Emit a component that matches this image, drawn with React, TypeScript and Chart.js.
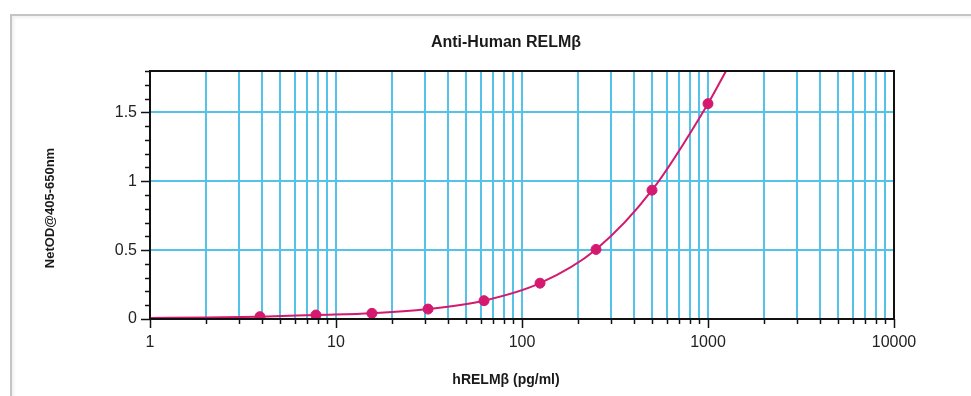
import React, { useEffect, useRef } from "react";
import { Chart, registerables } from "chart.js";

Chart.register(...registerables);

const titleText = "Anti-Human RELMβ";
const xTitle = "hRELMβ (pg/ml)";
const yTitle = "NetOD@405-650nm";

// Standard points
const stdConc = [3.9, 7.8, 15.6, 31.25, 62.5, 125, 250, 500, 1000];
const stdOD = [0.017, 0.029, 0.041, 0.072, 0.133, 0.26, 0.505, 0.935, 1.563];

// Fitted curve
const curveConc = [1, 2, 3.9, 7.8, 15.6, 31.25, 62.5, 125, 250, 500, 1000, 1250];
const curveOD = [0.008, 0.011, 0.017, 0.029, 0.041, 0.072, 0.133, 0.26, 0.505, 0.935, 1.563, 1.8];

const xMajorTicks = [1, 10, 100, 1000, 10000];
const yMajorTicks = [0, 0.5, 1, 1.5];

const GRID = "#55c2ea";
const CURVE = "#d4196f";

function buildXTicks(): number[] {
  const out: number[] = [];
  for (let p = 0; p < 4; p++) {
    for (let m = 1; m < 10; m++) out.push(m * Math.pow(10, p));
  }
  out.push(10000);
  return out;
}
function buildYTicks(): number[] {
  const out: number[] = [];
  for (let i = 0; i <= 18; i++) out.push(Math.round(i) / 10);
  return out;
}
const isMajorX = (v: number) => xMajorTicks.some((t) => Math.abs(t - v) < 1e-9);
const isMajorY = (v: number) => yMajorTicks.some((t) => Math.abs(t - v) < 1e-9);

const decorPlugin = {
  id: "decor",
  afterDatasetsDraw(chart: any) {
    const { ctx, chartArea } = chart;
    const xs = chart.scales.x;
    const ys = chart.scales.y;
    ctx.save();
    // frame
    ctx.strokeStyle = "#111";
    ctx.lineWidth = 2;
    ctx.strokeRect(chartArea.left, chartArea.top, chartArea.right - chartArea.left, chartArea.bottom - chartArea.top);
    // y ticks
    ctx.lineWidth = 1.5;
    for (const v of buildYTicks()) {
      const py = Math.round(ys.getPixelForValue(v)) + 0.5;
      const len = isMajorY(v) ? 9 : 5;
      ctx.beginPath();
      ctx.moveTo(chartArea.left - len, py);
      ctx.lineTo(chartArea.left, py);
      ctx.stroke();
    }
    for (const v of buildXTicks()) {
      const px = Math.round(xs.getPixelForValue(v)) + 0.5;
      const len = isMajorX(v) ? 9 : 5;
      ctx.beginPath();
      ctx.moveTo(px, chartArea.bottom);
      ctx.lineTo(px, chartArea.bottom + len);
      ctx.stroke();
    }
    // titles
    ctx.fillStyle = "#1a1a1a";
    ctx.textAlign = "center";
    ctx.textBaseline = "middle";
    ctx.font = "bold 16px 'Liberation Sans Narrow', 'Liberation Sans', Arial, sans-serif";
    ctx.fillText(titleText, 506, 43);
    ctx.font = "bold 14px 'Liberation Sans', Arial, sans-serif";
    ctx.fillText(xTitle, 506, 380);
    ctx.save();
    ctx.translate(50, 208);
    ctx.rotate(-Math.PI / 2);
    ctx.font = "bold 13px 'Liberation Sans', Arial, sans-serif";
    ctx.fillText(yTitle, 0, 0);
    ctx.restore();
    ctx.restore();
  },
};

export default function App() {
  const ref = useRef<HTMLCanvasElement | null>(null);
  useEffect(() => {
    if (!ref.current) return;
    const chart = new Chart(ref.current, {
      type: "scatter",
      data: {
        datasets: [
          {
            label: "fit",
            data: curveConc.map((x, i) => ({ x, y: curveOD[i] })),
            showLine: true,
            borderColor: CURVE,
            borderWidth: 2,
            pointRadius: 0,
            cubicInterpolationMode: "monotone",
            order: 2,
          } as any,
          {
            label: "std",
            data: stdConc.map((x, i) => ({ x, y: stdOD[i] })),
            showLine: false,
            backgroundColor: CURVE,
            borderColor: CURVE,
            pointRadius: 5,
            order: 1,
          },
        ],
      },
      options: {
        responsive: false,
        animation: false,
        layout: { padding: { top: 71, right: 77, left: 0, bottom: 0 } },
        plugins: { legend: { display: false }, tooltip: { enabled: false }, title: { display: false } },
        scales: {
          x: {
            type: "logarithmic",
            min: 1,
            max: 10000,
            afterBuildTicks: (s: any) => {
              s.ticks = buildXTicks().map((value) => ({ value }));
            },
            afterFit: (s: any) => {
              s.height = 77;
            },
            border: { display: false },
            grid: { color: GRID, lineWidth: 2, drawTicks: false },
            ticks: {
              autoSkip: false,
              maxRotation: 0,
              padding: 14,
              color: "#222",
              font: { size: 16, family: "'Liberation Sans', Arial, sans-serif" },
              callback: (v: any) => (isMajorX(Number(v)) ? String(Number(v)) : ""),
            },
          },
          y: {
            min: 0,
            max: 1.8,
            afterBuildTicks: (s: any) => {
              s.ticks = buildYTicks().map((value) => ({ value }));
            },
            afterFit: (s: any) => {
              s.width = 150;
            },
            border: { display: false },
            grid: {
              drawTicks: false,
              lineWidth: 2,
              color: (c: any) => (c.tick && isMajorY(c.tick.value) && c.tick.value > 0 ? GRID : "rgba(0,0,0,0)"),
            },
            ticks: {
              autoSkip: false,
              padding: 13,
              color: "#222",
              font: { size: 16, family: "'Liberation Sans', Arial, sans-serif" },
              callback: (v: any) => (isMajorY(Number(v)) ? String(Number(v)) : ""),
            },
          },
        },
      },
      plugins: [decorPlugin],
    });
    return () => chart.destroy();
  }, []);
  return (
    <div style={{ position: "absolute", left: 0, top: 0, width: 971, height: 396, background: "#fff", overflow: "hidden" }}>
      <div
        style={{
          position: "absolute",
          left: 10,
          top: 14,
          width: 1000,
          height: 420,
          borderLeft: "2px solid #c4c4c4",
          borderTop: "2px solid #c4c4c4",
          boxShadow: "inset 2px 2px 3px rgba(0,0,0,0.06)",
        }}
      />
      <canvas ref={ref} width={971} height={396} style={{ position: "absolute", left: 0, top: 0, display: "block" }} />
    </div>
  );
}
